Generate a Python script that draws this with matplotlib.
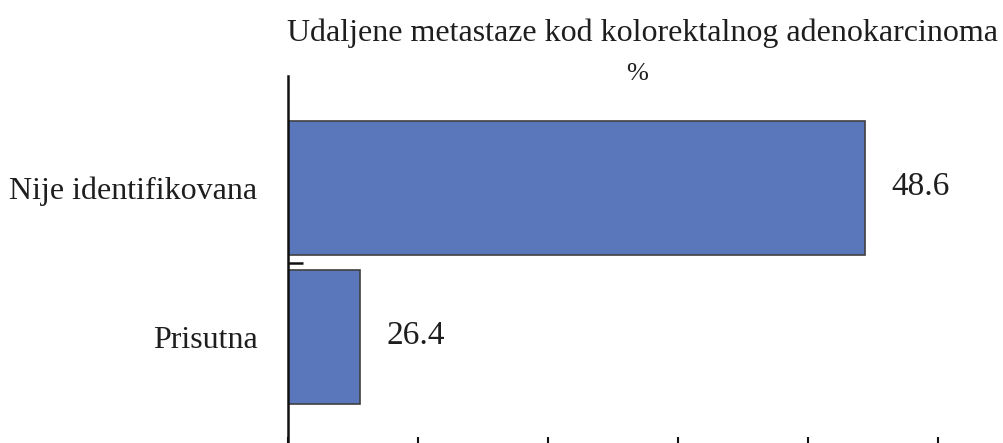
import numpy as np
import matplotlib.pyplot as plt

# data
categories = ['Prisutna', 'Nije identifikovana']
values = [26.4, 48.6]
value_labels = ['26.4', '48.6']
title = 'Udaljene metastaze kod kolorektalnog adenokarcinoma'
subtitle = '%'

# axis settings (axis does not start at 0)
x_min = 23.23
x_max = 54.2
x_step = 5.72

plt.rcParams['font.family'] = ['Liberation Serif', 'DejaVu Serif']
txt_color = '#1e1e1e'

W, H = 1004, 443
fig = plt.figure(figsize=(W / 100, H / 100), dpi=100)
# axes from x=288..992 px, y=76..443 px
ax = fig.add_axes([288 / W, 0 / H, (992 - 288) / W, (443 - 76) / H])

y = np.arange(len(categories))
ax.barh(y, [v - x_min for v in values], left=x_min, height=0.9,
        color='#5b77bb', edgecolor='#404040', linewidth=1.2)

ax.set_xlim(x_min, x_max)
ax.set_ylim(-0.711, 1.752)

for s in ['top', 'right', 'bottom']:
    ax.spines[s].set_visible(False)
ax.spines['left'].set_linewidth(1.8)
ax.spines['left'].set_color('#111111')

ax.set_xticks(np.arange(x_min, x_max, x_step))
ax.tick_params(axis='x', direction='in', length=4, width=1.5, color='#111111',
               labelbottom=False)

ax.set_yticks(y)
ax.set_yticklabels(categories, fontsize=23, color=txt_color)
ax.tick_params(axis='y', length=0, pad=22)
# tick between categories
ax.set_yticks([0.5], minor=True)
ax.tick_params(axis='y', which='minor', direction='in', length=11, width=1.8,
               color='#111111')

for yi, v, lab in zip(y, values, value_labels):
    ax.annotate(lab, (v, yi), xytext=(19, 1), textcoords='offset points',
                ha='left', va='center', fontsize=24, color=txt_color)

fig.text(643 / W, 1 - 33 / H, title, ha='center', va='center',
         fontsize=23, color=txt_color)
fig.text(637 / W, 1 - 74 / H, subtitle, ha='center', va='center',
         fontsize=19, color=txt_color)

fig.savefig('out.png', dpi=100)
